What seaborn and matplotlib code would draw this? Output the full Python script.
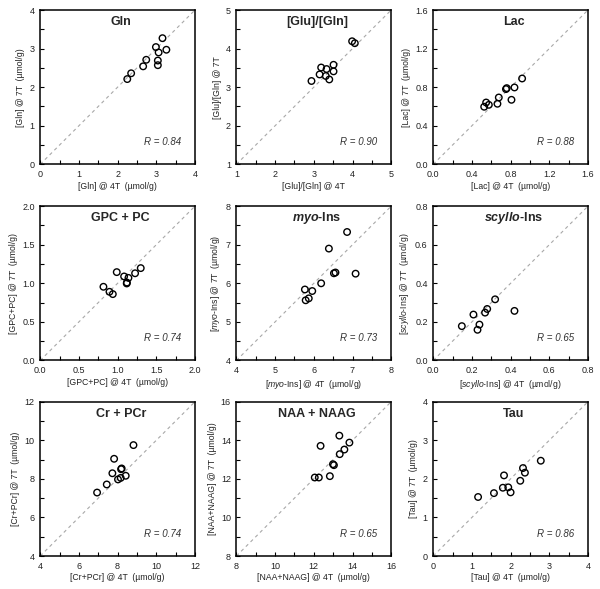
import numpy as np
import pandas as pd
import seaborn as sns
import matplotlib.pyplot as plt
from matplotlib.ticker import MultipleLocator

# values (x = 4T, y = 7T)
gln_4t = [2.25, 2.35, 2.66, 2.74, 2.99, 3.06, 3.04, 3.04, 3.16, 3.26]
gln_7t = [2.21, 2.36, 2.54, 2.71, 3.04, 2.90, 2.69, 2.57, 3.27, 2.97]

glu_gln_4t = [2.94, 3.15, 3.19, 3.33, 3.31, 3.40, 3.51, 3.51, 3.99, 4.06]
glu_gln_7t = [3.16, 3.33, 3.51, 3.47, 3.29, 3.20, 3.58, 3.41, 4.19, 4.14]

lac_4t = [0.527, 0.547, 0.575, 0.664, 0.678, 0.752, 0.760, 0.809, 0.840, 0.919]
lac_7t = [0.597, 0.641, 0.617, 0.628, 0.693, 0.780, 0.790, 0.669, 0.797, 0.890]

gpc_4t = [0.817, 0.895, 0.938, 0.989, 1.084, 1.118, 1.120, 1.140, 1.226, 1.299]
gpc_7t = [0.955, 0.890, 0.860, 1.145, 1.089, 0.998, 1.010, 1.070, 1.130, 1.197]

myo_4t = [5.77, 5.79, 5.87, 5.96, 6.19, 6.39, 6.52, 6.56, 6.86, 7.08]
myo_7t = [5.84, 5.56, 5.61, 5.80, 6.00, 6.90, 6.26, 6.28, 7.33, 6.25]

scyllo_4t = [0.148, 0.208, 0.229, 0.239, 0.268, 0.279, 0.320, 0.420]
scyllo_7t = [0.178, 0.238, 0.159, 0.186, 0.248, 0.267, 0.317, 0.257]

cr_4t = [6.94, 7.44, 7.73, 7.82, 8.02, 8.16, 8.18, 8.21, 8.42, 8.82]
cr_7t = [7.29, 7.71, 8.29, 9.04, 7.97, 8.05, 8.50, 8.54, 8.16, 9.75]

naa_4t = [12.05, 12.26, 12.35, 12.83, 12.99, 13.04, 13.32, 13.34, 13.58, 13.84]
naa_7t = [12.07, 12.07, 13.71, 12.14, 12.76, 12.71, 14.24, 13.28, 13.52, 13.88]

tau_4t = [1.16, 1.57, 1.80, 1.83, 1.94, 2.00, 2.25, 2.32, 2.37, 2.78]
tau_7t = [1.53, 1.63, 1.77, 2.09, 1.78, 1.65, 1.95, 2.28, 2.16, 2.47]

r_values = ['0.84', '0.90', '0.88', '0.74', '0.73', '0.65', '0.74', '0.65', '0.86']

titles = ['Gln', '[Glu]/[Gln]', 'Lac', 'GPC + PC', r'$\mathbfit{myo}$-Ins',
          r'$\mathbfit{scyllo}$-Ins', 'Cr + PCr', 'NAA + NAAG', 'Tau']
names = ['[Gln]', '[Glu]/[Gln]', '[Lac]', '[GPC+PC]', r'[$\mathit{myo}$-Ins]',
         r'[$\mathit{scyllo}$-Ins]', '[Cr+PCr]', '[NAA+NAAG]', '[Tau]']
units = ['  (µmol/g)', '', '  (µmol/g)', '  (µmol/g)', '  (µmol/g)',
         '  (µmol/g)', '  (µmol/g)', '  (µmol/g)', '  (µmol/g)']

# axis range, major step, minor step, tick format
limits = [(0, 4, 1, 0.5, '{:.0f}'), (1, 5, 1, 0.5, '{:.0f}'),
          (0, 1.6, 0.4, 0.2, '{:.1f}'), (0, 2, 0.5, 0.25, '{:.1f}'),
          (4, 8, 1, 0.5, '{:.0f}'), (0, 0.8, 0.2, 0.1, '{:.1f}'),
          (4, 12, 2, 1, '{:.0f}'), (8, 16, 2, 1, '{:.0f}'),
          (0, 4, 1, 0.5, '{:.0f}')]

xs = [gln_4t, glu_gln_4t, lac_4t, gpc_4t, myo_4t, scyllo_4t, cr_4t, naa_4t, tau_4t]
ys = [gln_7t, glu_gln_7t, lac_7t, gpc_7t, myo_7t, scyllo_7t, cr_7t, naa_7t, tau_7t]

sns.set_style('white')
plt.rcParams['font.family'] = ['Liberation Sans', 'DejaVu Sans']
plt.rcParams['mathtext.fontset'] = 'custom'
plt.rcParams['mathtext.rm'] = 'Liberation Sans'
plt.rcParams['mathtext.it'] = 'Liberation Sans:italic'
plt.rcParams['mathtext.bf'] = 'Liberation Sans:bold'
plt.rcParams['mathtext.bfit'] = 'Liberation Sans:bold:italic'

fig = plt.figure(figsize=(6.0, 5.89), dpi=100)
lefts = [0.067, 0.394, 0.722]
bottoms = [0.721, 0.388, 0.056]
w, h = 0.258, 0.262

for i in range(9):
    ax = fig.add_axes([lefts[i % 3], bottoms[i // 3], w, h])
    lo, hi, major, minor, fmt = limits[i]
    df = pd.DataFrame({'x': xs[i], 'y': ys[i]})

    ax.plot([lo, hi], [lo, hi], ls=(0, (3, 3)), color='#a8a8a8', lw=0.8, zorder=1)
    sns.scatterplot(data=df, x='x', y='y', ax=ax, s=22, facecolor='none',
                    edgecolor='black', linewidth=1.0, zorder=3)

    ax.set_xlim(lo, hi)
    ax.set_ylim(lo, hi)
    ticks = np.arange(lo, hi + major / 2, major)
    ax.set_xticks(ticks)
    ax.set_yticks(ticks)
    ax.set_xticklabels([fmt.format(t) for t in ticks])
    ax.set_yticklabels([fmt.format(t) for t in ticks])
    ax.xaxis.set_minor_locator(MultipleLocator(minor))
    ax.yaxis.set_minor_locator(MultipleLocator(minor))
    ax.tick_params(which='both', direction='in', length=3, width=0.8,
                   labelsize=6.5, pad=4, colors='black', labelcolor='#222222',
                   bottom=True, left=True, top=False, right=False)

    for sp in ax.spines.values():
        sp.set_linewidth(1.1)
        sp.set_color('black')

    ax.set_xlabel(names[i] + ' @ 4T' + units[i], fontsize=6.2, labelpad=2,
                  color='#222222')
    ax.set_ylabel(names[i] + ' @ 7T' + units[i], fontsize=6.2, labelpad=3,
                  color='#222222')
    ax.text(0.52, 0.92, titles[i], transform=ax.transAxes, ha='center', va='center',
            fontsize=9, fontweight='bold')
    ax.text(0.79, 0.145, 'R = ' + r_values[i], transform=ax.transAxes,
            ha='center', va='center', fontsize=7, style='italic', color='#333333')

fig.savefig('out.png', dpi=100)
